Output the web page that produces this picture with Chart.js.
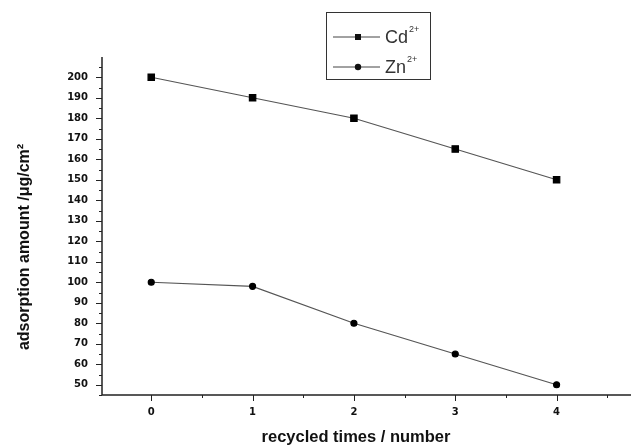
<!DOCTYPE html>
<html>
<head>
<meta charset="utf-8">
<script src="https://cdn.jsdelivr.net/npm/chart.js@4"></script>
<style>
  html, body { margin: 0; padding: 0; background: #fff; }
  #wrap { width: 631px; height: 448px; position: relative; }
</style>
</head>
<body>
<div id="wrap"><canvas id="chart" width="631" height="448"></canvas></div>
<script>
// ===============================
// Data
// ===============================
const cycles = [0, 1, 2, 3, 4];
const cdValues = [200, 190, 180, 165, 150];
const znValues = [100, 98, 80, 65, 50];
const seriesNames = ["Cd", "Zn"];
const seriesCharge = ["2+", "2+"];
const xTickLabels = ["0", "1", "2", "3", "4"];
const yTitle = "adsorption amount /\u03BCg/cm\u00B2";
const xTitle = "recycled times / number";

const toPoints = (vals) => vals.map((v, i) => ({ x: cycles[i], y: v }));
const tickFont = { family: "'DejaVu Sans', Arial", size: 10, weight: "bold" };

// ===============================
// Outward ticks (major + minor), axis titles and boxed legend
// ===============================
const axisDecor = {
  id: "axisDecor",
  afterDraw(chart) {
    const ctx = chart.ctx;
    const { left, top, bottom } = chart.chartArea;
    const xs = chart.scales.x;
    const ys = chart.scales.y;
    ctx.save();
    ctx.strokeStyle = "#222";
    ctx.lineWidth = 1.5;

    // axis lines
    ctx.beginPath();
    ctx.moveTo(left, top - 10);
    ctx.lineTo(left, bottom);
    ctx.lineTo(631, bottom);
    ctx.stroke();

    // y ticks every 5, major every 10
    ctx.lineWidth = 1;
    for (let v = 45; v <= 205; v += 5) {
      const py = Math.round(ys.getPixelForValue(v)) + 0.5;
      const len = v % 10 === 0 ? 6 : 3;
      ctx.beginPath();
      ctx.moveTo(left - len, py);
      ctx.lineTo(left, py);
      ctx.stroke();
    }
    // x ticks every 0.5, major every 1
    for (let v = -0.5; v <= 4.5; v += 0.5) {
      const px = Math.round(xs.getPixelForValue(v)) + 0.5;
      if (px < left) continue;
      const len = Number.isInteger(v) ? 6 : 3;
      ctx.beginPath();
      ctx.moveTo(px, bottom);
      ctx.lineTo(px, bottom + len);
      ctx.stroke();
    }

    // axis titles
    ctx.fillStyle = "#111";
    ctx.font = "bold 16.5px 'Liberation Sans', Arial, sans-serif";
    ctx.textAlign = "center";
    ctx.textBaseline = "middle";
    ctx.fillText(xTitle, 356, 437);
    ctx.save();
    ctx.translate(25, 247);
    ctx.rotate(-Math.PI / 2);
    ctx.font = "bold 16px 'Liberation Sans', Arial, sans-serif";
    ctx.fillText(yTitle, 0, 0);
    ctx.restore();

    // legend box
    const bx = 326, by = 12, bw = 104, bh = 67;
    ctx.strokeStyle = "#333";
    ctx.lineWidth = 1;
    ctx.strokeRect(bx + 0.5, by + 0.5, bw, bh);
    chart.data.datasets.forEach((ds, i) => {
      const ly = by + 25 + i * 30;
      ctx.strokeStyle = "#444";
      ctx.beginPath();
      ctx.moveTo(bx + 7, ly);
      ctx.lineTo(bx + 54, ly);
      ctx.stroke();
      ctx.fillStyle = "#111";
      if (ds.pointStyle === "rect") {
        ctx.fillRect(bx + 29, ly - 3, 6, 6);
      } else {
        ctx.beginPath();
        ctx.arc(bx + 32, ly, 3.2, 0, Math.PI * 2);
        ctx.fill();
      }
      ctx.fillStyle = "#333";
      ctx.font = "18px 'Liberation Sans', Arial, sans-serif";
      ctx.textBaseline = "middle";
      ctx.textAlign = "left";
      ctx.fillText(ds.label, bx + 59, ly + 1);
      const w = ctx.measureText(ds.label).width;
      ctx.font = "9px 'Liberation Sans', Arial, sans-serif";
      ctx.fillText(seriesCharge[i], bx + 60 + w, ly - 7);
    });
    ctx.restore();
  },
};

// ===============================
// Chart
// ===============================
const ctx = document.getElementById("chart").getContext("2d");
new Chart(ctx, {
  type: "line",
  data: {
    datasets: [
      {
        label: seriesNames[0],
        data: toPoints(cdValues),
        borderColor: "#555",
        borderWidth: 1.2,
        pointStyle: "rect",
        pointRadius: 4.5,
        pointBackgroundColor: "#000",
        pointBorderColor: "#000",
        tension: 0,
      },
      {
        label: seriesNames[1],
        data: toPoints(znValues),
        borderColor: "#555",
        borderWidth: 1.2,
        pointStyle: "circle",
        pointRadius: 3,
        pointBackgroundColor: "#000",
        pointBorderColor: "#000",
        tension: 0,
      },
    ],
  },
  options: {
    responsive: false,
    animation: false,
    layout: { padding: { top: 67, right: 0, left: 0, bottom: 0 } },
    plugins: { legend: { display: false }, tooltip: { enabled: false } },
    scales: {
      x: {
        type: "linear",
        min: -0.486,
        max: 4.678,
        afterFit: (s) => { s.height = 53; },
        afterBuildTicks: (s) => {
          s.ticks = cycles.map((c) => ({ value: c }));
        },
        border: { display: false },
        grid: { display: false },
        ticks: {
          padding: 3,
          color: "#111",
          font: tickFont,
          callback: (v) => xTickLabels[cycles.indexOf(v)],
        },
        title: { display: false },
      },
      y: {
        min: 45,
        max: 205,
        afterFit: (s) => { s.width = 102; },
        border: { display: false },
        grid: { display: false },
        afterBuildTicks: (s) => {
          s.ticks = [];
          for (let v = 50; v <= 200; v += 10) s.ticks.push({ value: v });
        },
        ticks: {
          padding: 6,
          color: "#111",
          font: tickFont,
        },
        title: { display: false },
      },
    },
  },
  plugins: [axisDecor],
});
</script>
</body>
</html>
